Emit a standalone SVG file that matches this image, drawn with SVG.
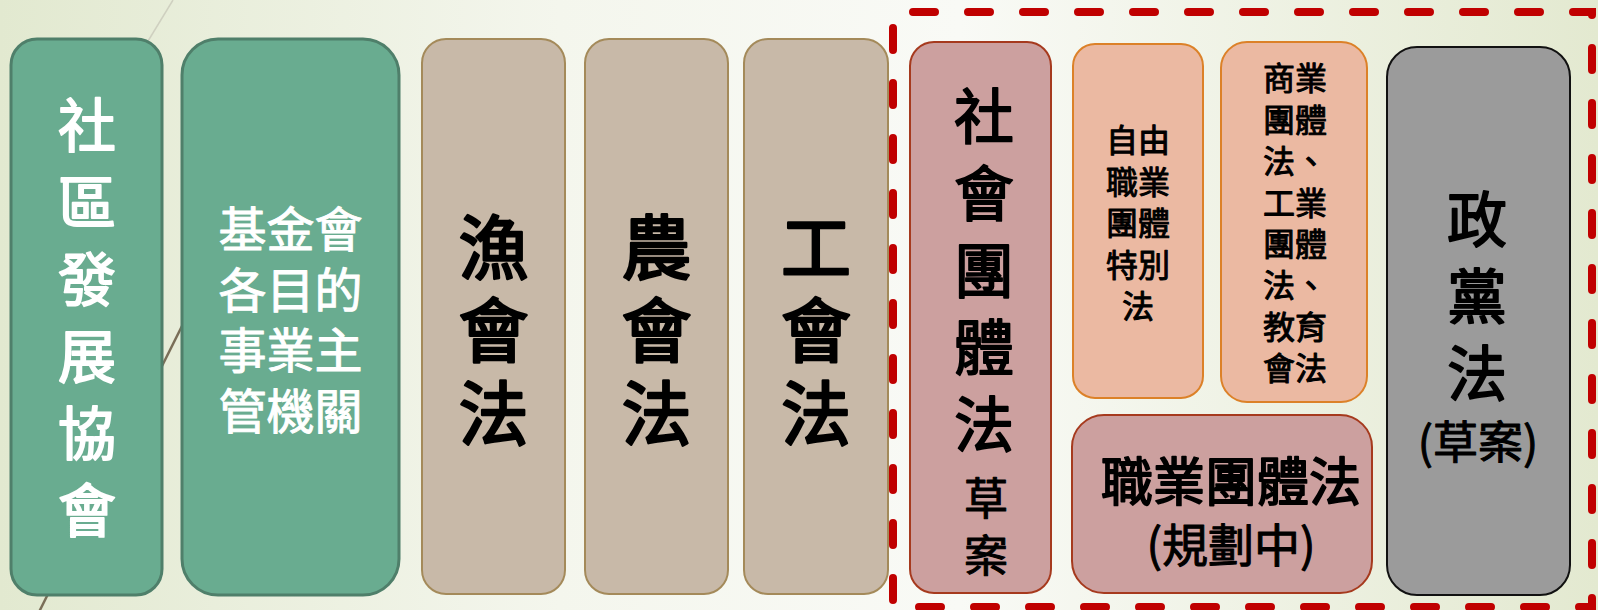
<svg xmlns="http://www.w3.org/2000/svg" width="1598" height="610" viewBox="0 0 1598 610">
<defs>
<linearGradient id="bg" x1="0" y1="0" x2="1" y2="0">
<stop offset="0" stop-color="#e2e9d0"/>
<stop offset="0.35" stop-color="#f4f6ed"/>
<stop offset="0.6" stop-color="#f9faf6"/>
<stop offset="1" stop-color="#e3e9d0"/>
</linearGradient>
<style>
.t{font-family:"Noto Sans CJK TC","Noto Sans CJK SC",sans-serif;text-anchor:middle;dominant-baseline:central;paint-order:stroke;stroke-linejoin:round}
.w{fill:#ffffff;stroke:#ffffff}
.k{fill:#000000;stroke:#000000}
.s0{stroke-width:0}
.s1{stroke-width:1}
.s2{stroke-width:1.8}
.s3{stroke-width:2.6}
.green{fill:#69ac90;stroke:#4f7f6a;stroke-width:3}
.tan{fill:#c8b9a8;stroke:#a48a5a;stroke-width:2}
.rose{fill:#cca09f;stroke:#a63a1e;stroke-width:2}
.peach{fill:#ebb9a2;stroke:#dc8128;stroke-width:2}
.gray{fill:#9b9b9b;stroke:#111111;stroke-width:2}
</style>
</defs>
<rect x="0" y="0" width="1598" height="610" fill="url(#bg)"/>
<g id="background-lines" fill="none">
<line x1="173" y1="0" x2="145" y2="46" stroke="#cfd0c0" stroke-width="1.5"/>
<line x1="215" y1="260" x2="38" y2="614" stroke="#7a6f58" stroke-width="2.5"/>
</g>
<g id="connectors">
<rect id="frame" x="893" y="12" width="699" height="595" fill="none" stroke="#c00000" stroke-width="8" stroke-linecap="round" stroke-dasharray="22 33" stroke-dashoffset="-20"/>
</g>
<g id="n1">
<rect class="green" x="11" y="39" width="151" height="556" rx="26"/>
<text class="t w s2" font-size="58"><tspan x="87" y="122">社</tspan><tspan x="87" y="199">區</tspan><tspan x="87" y="276">發</tspan><tspan x="87" y="353">展</tspan><tspan x="87" y="430">協</tspan><tspan x="87" y="507">會</tspan></text>
</g>
<g id="n2">
<rect class="green" x="182" y="39" width="217" height="556" rx="36"/>
<text class="t w s1" font-size="48"><tspan x="290.5" y="226">基金會</tspan><tspan x="290.5" y="287">各目的</tspan><tspan x="290.5" y="347">事業主</tspan><tspan x="290.5" y="408">管機關</tspan></text>
</g>
<g id="n3">
<rect class="tan" x="422" y="39" width="143" height="555" rx="24"/>
<text class="t k s3" font-size="70"><tspan x="493.5" y="243">漁</tspan><tspan x="493.5" y="326">會</tspan><tspan x="493.5" y="409">法</tspan></text>
</g>
<g id="n4">
<rect class="tan" x="585" y="39" width="143" height="555" rx="24"/>
<text class="t k s3" font-size="70"><tspan x="656.5" y="243">農</tspan><tspan x="656.5" y="326">會</tspan><tspan x="656.5" y="409">法</tspan></text>
</g>
<g id="n5">
<rect class="tan" x="744" y="39" width="144" height="555" rx="24"/>
<text class="t k s3" font-size="70"><tspan x="816" y="243">工</tspan><tspan x="816" y="326">會</tspan><tspan x="816" y="409">法</tspan></text>
</g>
<g id="n6">
<rect class="rose" x="910" y="42" width="141" height="551" rx="24"/>
<text class="t k s2" font-size="60"><tspan x="984" y="112">社</tspan><tspan x="984" y="189">會</tspan><tspan x="984" y="266">團</tspan><tspan x="984" y="343">體</tspan><tspan x="984" y="420">法</tspan></text>
<text class="t k s1" font-size="44"><tspan x="986" y="496">草</tspan><tspan x="986" y="553">案</tspan></text>
</g>
<g id="n7">
<rect class="peach" x="1073" y="44" width="130" height="354" rx="22"/>
<text class="t k s1" font-size="32"><tspan x="1138" y="138">自由</tspan><tspan x="1138" y="180">職業</tspan><tspan x="1138" y="221">團體</tspan><tspan x="1138" y="263">特別</tspan><tspan x="1138" y="304">法</tspan></text>
</g>
<g id="n8">
<rect class="peach" x="1221" y="42" width="146" height="360" rx="26"/>
<text class="t k s1" font-size="32"><tspan x="1295" y="76">商業</tspan><tspan x="1295" y="117.5">團體</tspan><tspan x="1295" y="159">法、</tspan><tspan x="1295" y="201">工業</tspan><tspan x="1295" y="242">團體</tspan><tspan x="1295" y="283">法、</tspan><tspan x="1295" y="325">教育</tspan><tspan x="1295" y="366">會法</tspan></text>
</g>
<g id="n9">
<rect class="gray" x="1387" y="47" width="183" height="548" rx="30"/>
<text class="t k s2" font-size="60"><tspan x="1477" y="215">政</tspan><tspan x="1477" y="292">黨</tspan><tspan x="1477" y="369">法</tspan></text>
<text class="t k s1" x="1478" y="439" font-size="45">(草案)</text>
</g>
<g id="n10">
<rect class="rose" x="1072" y="415" width="300" height="178" rx="32"/>
<text class="t k s2" x="1231" y="478" font-size="52">職業團體法</text>
<text class="t k s1" x="1231" y="542" font-size="46">(規劃中)</text>
</g>
</svg>
